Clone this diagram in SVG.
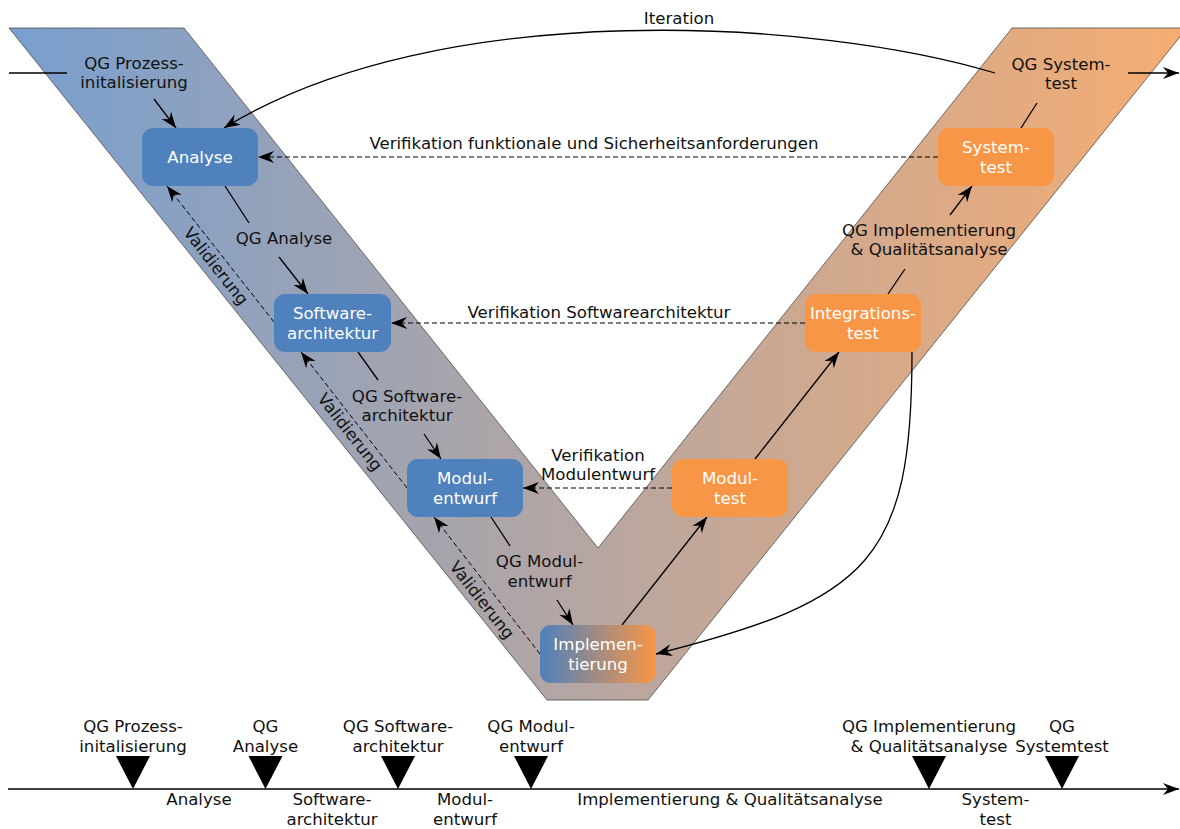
<svg xmlns="http://www.w3.org/2000/svg" width="1180" height="829" viewBox="0 0 1180 829">
<defs>
  <linearGradient id="vg" gradientUnits="userSpaceOnUse" x1="9" y1="0" x2="1187" y2="0">
    <stop offset="0" stop-color="#789fcf"/>
    <stop offset="1" stop-color="#f6ad72"/>
  </linearGradient>
  <linearGradient id="ig" x1="0" y1="0" x2="1" y2="0">
    <stop offset="0" stop-color="#4f81bd"/>
    <stop offset="1" stop-color="#f79646"/>
  </linearGradient>
  <marker id="ah" viewBox="-17 -7 19 14" refX="0" refY="0" markerWidth="19" markerHeight="14" markerUnits="userSpaceOnUse" orient="auto" overflow="visible">
    <path d="M0,0 L-16,-6 L-11,0 L-16,6 Z" fill="#000"/>
  </marker>
</defs>
<style>
  text{font-family:"DejaVu Sans","Noto Sans",sans-serif;font-size:16.6px;text-anchor:middle;fill:#111}
  .nt{fill:#fff}
  .blue{fill:#4f81bd}
  .orange{fill:#f79646}
  .c{stroke:#000;stroke-width:1.3;fill:none}
  .d{stroke:#000;stroke-width:1;fill:none;stroke-dasharray:5 3}
  .a{marker-end:url(#ah)}
  .tri{fill:#000}
</style>

<g id="vshape">
  <polygon points="9,28 184,28 598,548 1012,28 1187,28 648,700 547,700" fill="url(#vg)" stroke="#4d4d4d" stroke-width="0.8"/>
</g>

<g id="connectors">
  <path class="c" d="M9,73 L67,73"/>
  <path class="c a" d="M154,99 L176,128"/>
  <path class="c a" d="M995,73 C820,20 440,-5 224,128"/>
  <path class="c a" d="M1128,73 L1179,73"/>
  <path class="c" d="M1021,128 L1037,103"/>
  <path class="c a" d="M950,215 L972,186"/>
  <path class="c" d="M888,294 L905,269"/>
  <path class="c a" d="M755,459 L839,352"/>
  <path class="c a" d="M622,625 L707,517"/>
  <path class="c a" d="M912,352 C912,560 870,600 656,654"/>
  <path class="c" d="M225,186 L249,223"/>
  <path class="c a" d="M279,257 L308,294"/>
  <path class="c" d="M358,352 L378,380"/>
  <path class="c a" d="M424,434 L441,459"/>
  <path class="c" d="M491,517 L510,546"/>
  <path class="c a" d="M557,600 L573,625"/>
  <path class="d a" d="M938,157 L258,157"/>
  <path class="d a" d="M805,323 L391,323"/>
  <path class="d a" d="M672,488 L523,488"/>
  <path class="d a" d="M274,322 L167,186"/>
  <path class="d a" d="M407,488 L301,352"/>
  <path class="d a" d="M540,654 L434,517"/>
</g>

<g id="edge-labels">
  <text x="679" y="24">Iteration</text>
  <text x="594" y="149">Verifikation funktionale und Sicherheitsanforderungen</text>
  <text x="599" y="318">Verifikation Softwarearchitektur</text>
  <text x="598" y="461">Verifikation</text>
  <text x="598" y="480">Modulentwurf</text>
  <text x="216" y="266" dy="0.35em" transform="rotate(52 216 266)">Validierung</text>
  <text x="350" y="432" dy="0.35em" transform="rotate(52 350 432)">Validierung</text>
  <text x="482" y="600" dy="0.35em" transform="rotate(52 482 600)">Validierung</text>
</g>

<g id="qg-prozess"><text x="134" y="68.5">QG Prozess-</text><text x="134" y="88">initalisierung</text></g>
<g id="qg-analyse"><text x="284" y="244">QG Analyse</text></g>
<g id="qg-sa"><text x="407" y="401.5">QG Software-</text><text x="407" y="420.5">architektur</text></g>
<g id="qg-me"><text x="539.5" y="567">QG Modul-</text><text x="539.5" y="586.5">entwurf</text></g>
<g id="qg-impl"><text x="929" y="235.5">QG Implementierung</text><text x="929" y="255">&amp; Qualitätsanalyse</text></g>
<g id="qg-st"><text x="1061" y="69.5">QG System-</text><text x="1061" y="89">test</text></g>

<g id="n-analyse"><rect class="blue" x="142" y="128" width="116" height="58" rx="11"/><text class="nt" x="200" y="162.5">Analyse</text></g>
<g id="n-sa"><rect class="blue" x="274" y="294" width="117" height="58" rx="11"/><text class="nt" x="332.5" y="319">Software-</text><text class="nt" x="332.5" y="338.5">architektur</text></g>
<g id="n-me"><rect class="blue" x="407" y="459" width="116" height="58" rx="11"/><text class="nt" x="465" y="484">Modul-</text><text class="nt" x="465" y="503.5">entwurf</text></g>
<g id="n-impl"><rect fill="url(#ig)" x="540" y="625" width="116" height="58" rx="11"/><text class="nt" x="598" y="650">Implemen-</text><text class="nt" x="598" y="669.5">tierung</text></g>
<g id="n-mt"><rect class="orange" x="672" y="459" width="116" height="58" rx="11"/><text class="nt" x="730" y="484">Modul-</text><text class="nt" x="730" y="503.5">test</text></g>
<g id="n-it"><rect class="orange" x="805" y="294" width="116" height="58" rx="11"/><text class="nt" x="863" y="319">Integrations-</text><text class="nt" x="863" y="338.5">test</text></g>
<g id="n-st"><rect class="orange" x="938" y="128" width="116" height="58" rx="11"/><text class="nt" x="996" y="153">System-</text><text class="nt" x="996" y="172.5">test</text></g>

<g id="timeline">
  <path class="c a" d="M8,789 L1179,789"/>
  <g id="m1"><polygon class="tri" points="116,756 150,756 133,789"/><text x="133" y="732">QG Prozess-</text><text x="133" y="751.5">initalisierung</text></g>
  <g id="m2"><polygon class="tri" points="248.5,756 282.5,756 265.5,789"/><text x="265.5" y="732">QG</text><text x="265.5" y="751.5">Analyse</text></g>
  <g id="m3"><polygon class="tri" points="381,756 415,756 398,789"/><text x="398" y="732">QG Software-</text><text x="398" y="751.5">architektur</text></g>
  <g id="m4"><polygon class="tri" points="514,756 548,756 531,789"/><text x="531" y="732">QG Modul-</text><text x="531" y="751.5">entwurf</text></g>
  <g id="m5"><polygon class="tri" points="912,756 946,756 929,789"/><text x="929" y="732">QG Implementierung</text><text x="929" y="751.5">&amp; Qualitätsanalyse</text></g>
  <g id="m6"><polygon class="tri" points="1045,756 1079,756 1062,789"/><text x="1062" y="732">QG</text><text x="1062" y="751.5">Systemtest</text></g>
  <g id="phases">
    <text x="199" y="805">Analyse</text>
    <text x="332" y="805">Software-</text><text x="332" y="825">architektur</text>
    <text x="465" y="805">Modul-</text><text x="465" y="825">entwurf</text>
    <text x="730" y="805">Implementierung &amp; Qualitätsanalyse</text>
    <text x="995.5" y="805">System-</text><text x="995.5" y="825">test</text>
  </g>
</g>
</svg>
